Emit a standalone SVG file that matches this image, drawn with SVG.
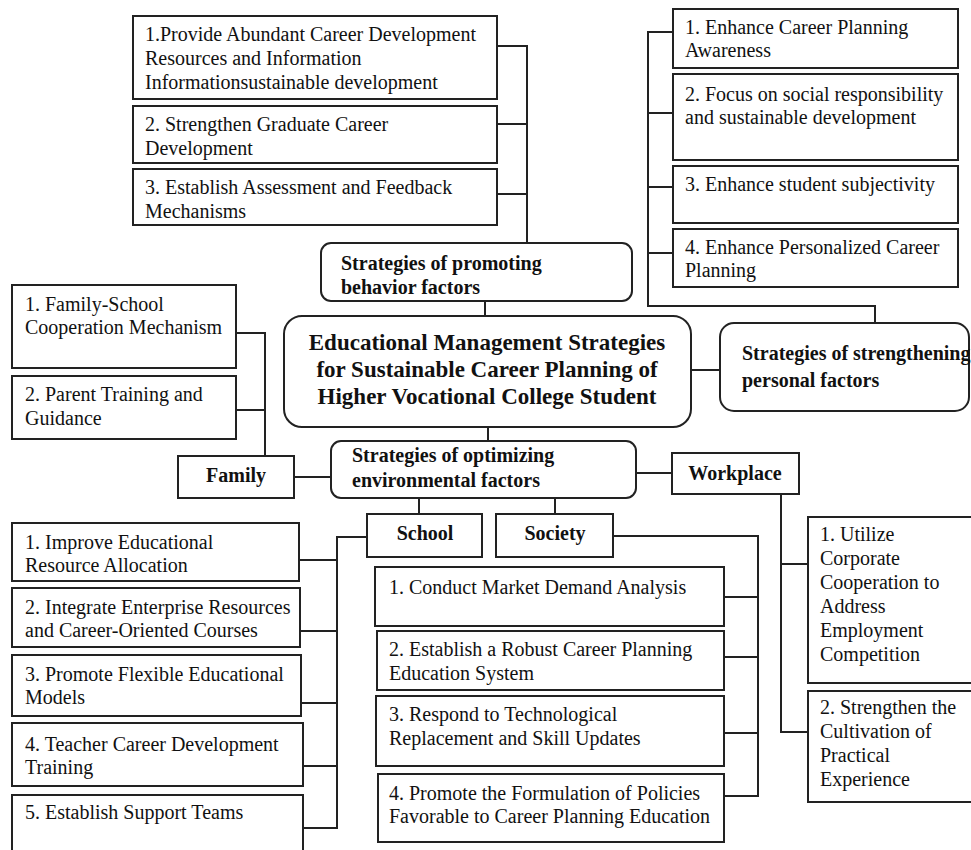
<svg xmlns="http://www.w3.org/2000/svg" width="971" height="850" viewBox="0 0 971 850">
<style>
.b{fill:#fff;stroke:#222;stroke-width:2}
.t{font-family:"Liberation Serif","Times New Roman",serif;font-size:20px;fill:#111}
.bt{font-family:"Liberation Serif","Times New Roman",serif;font-size:20px;font-weight:bold;fill:#111}
.mt{font-family:"Liberation Serif","Times New Roman",serif;font-size:23px;font-weight:bold;fill:#111;text-anchor:middle}
.c{text-anchor:middle}
#connectors path{fill:none;stroke:#222;stroke-width:2}
</style>
<rect width="971" height="850" fill="#fff"/>
<g id="connectors">
<path d="M497 46H527V243M497 124H527M497 194H527"/>
<path d="M485 301V316"/>
<path d="M673 32H648V306H875V323M648 113H673M648 187H673M648 253H673"/>
<path d="M691 370H720"/>
<path d="M236 333H265V456M236 410H265"/>
<path d="M294 477H331"/>
<path d="M488 427V441"/>
<path d="M636 473H672"/>
<path d="M781 494V732H808M781 564H808"/>
<path d="M419 498V514M555 498V514"/>
<path d="M367 537H337V828H303M299 560H337M300 631H337M301 703H337M303 766H337"/>
<path d="M613 536H758V796H724M724 597H758M724 657H758M724 733H758"/>
</g>
<g id="behavior1"><rect class="b" x="133" y="16" width="364" height="83"/><text class="t" x="145" y="41">1.Provide Abundant Career Development</text><text class="t" x="145" y="65">Resources and Information</text><text class="t" x="145" y="89">Informationsustainable development</text></g>
<g id="behavior2"><rect class="b" x="133" y="106" width="364" height="57"/><text class="t" x="145" y="131">2. Strengthen Graduate Career</text><text class="t" x="145" y="155">Development</text></g>
<g id="behavior3"><rect class="b" x="133" y="169" width="364" height="56"/><text class="t" x="145" y="194">3. Establish Assessment and Feedback</text><text class="t" x="145" y="218">Mechanisms</text></g>
<g id="behavior"><rect class="b" x="321" y="243" width="311" height="58" rx="10"/><text class="bt" x="341" y="270">Strategies of promoting</text><text class="bt" x="341" y="294">behavior factors</text></g>
<g id="personal1"><rect class="b" x="673" y="9" width="285" height="59"/><text class="t" x="685" y="34">1. Enhance Career Planning</text><text class="t" x="685" y="57">Awareness</text></g>
<g id="personal2"><rect class="b" x="673" y="74" width="285" height="86"/><text class="t" x="685" y="101">2. Focus on social responsibility</text><text class="t" x="685" y="124">and sustainable development</text></g>
<g id="personal3"><rect class="b" x="673" y="166" width="285" height="57"/><text class="t" x="685" y="191">3. Enhance student subjectivity</text></g>
<g id="personal4"><rect class="b" x="673" y="229" width="285" height="58"/><text class="t" x="685" y="254">4. Enhance Personalized Career</text><text class="t" x="685" y="277">Planning</text></g>
<g id="personal"><rect class="b" x="720" y="323" width="249" height="88" rx="14"/><text class="bt" x="742" y="360">Strategies of strengthening</text><text class="bt" x="742" y="387">personal factors</text></g>
<g id="main"><rect class="b" x="284" y="316" width="407" height="111" rx="18"/><text class="mt" x="487" y="350">Educational Management Strategies</text><text class="mt" x="487" y="377">for Sustainable Career Planning of</text><text class="mt" x="487" y="404">Higher Vocational College Student</text></g>
<g id="family1"><rect class="b" x="12" y="285" width="224" height="83"/><text class="t" x="25" y="311">1. Family-School</text><text class="t" x="25" y="334">Cooperation Mechanism</text></g>
<g id="family2"><rect class="b" x="12" y="376" width="224" height="63"/><text class="t" x="25" y="401">2. Parent Training and</text><text class="t" x="25" y="425">Guidance</text></g>
<g id="family"><rect class="b" x="178" y="456" width="116" height="42"/><text class="bt c" x="236" y="482">Family</text></g>
<g id="environment"><rect class="b" x="331" y="441" width="305" height="57" rx="10"/><text class="bt" x="352" y="462">Strategies of optimizing</text><text class="bt" x="352" y="487">environmental factors</text></g>
<g id="workplace"><rect class="b" x="672" y="453" width="127" height="41"/><text class="bt c" x="735" y="480">Workplace</text></g>
<g id="workplace1"><rect class="b" x="808" y="517" width="170" height="166"/><text class="t" x="820" y="541">1. Utilize</text><text class="t" x="820" y="565">Corporate</text><text class="t" x="820" y="589">Cooperation to</text><text class="t" x="820" y="613">Address</text><text class="t" x="820" y="637">Employment</text><text class="t" x="820" y="661">Competition</text></g>
<g id="workplace2"><rect class="b" x="808" y="691" width="170" height="111"/><text class="t" x="820" y="714">2. Strengthen the</text><text class="t" x="820" y="738">Cultivation of</text><text class="t" x="820" y="762">Practical</text><text class="t" x="820" y="786">Experience</text></g>
<g id="school"><rect class="b" x="367" y="514" width="115" height="43"/><text class="bt c" x="425" y="540">School</text></g>
<g id="society"><rect class="b" x="496" y="514" width="117" height="43"/><text class="bt c" x="555" y="540">Society</text></g>
<g id="school1"><rect class="b" x="12" y="523" width="287" height="58"/><text class="t" x="25" y="549">1. Improve Educational</text><text class="t" x="25" y="572">Resource Allocation</text></g>
<g id="school2"><rect class="b" x="12" y="588" width="288" height="59"/><text class="t" x="25" y="614">2. Integrate Enterprise Resources</text><text class="t" x="25" y="637">and Career-Oriented Courses</text></g>
<g id="school3"><rect class="b" x="12" y="655" width="289" height="61"/><text class="t" x="25" y="681">3. Promote Flexible Educational</text><text class="t" x="25" y="704">Models</text></g>
<g id="school4"><rect class="b" x="12" y="723" width="291" height="63"/><text class="t" x="25" y="751">4. Teacher Career Development</text><text class="t" x="25" y="774">Training</text></g>
<g id="school5"><rect class="b" x="12" y="795" width="291" height="65"/><text class="t" x="25" y="819">5. Establish Support Teams</text></g>
<g id="society1"><rect class="b" x="375" y="567" width="349" height="59"/><text class="t" x="389" y="594">1. Conduct Market Demand Analysis</text></g>
<g id="society2"><rect class="b" x="377" y="631" width="347" height="59"/><text class="t" x="389" y="656">2. Establish a Robust Career Planning</text><text class="t" x="389" y="680">Education System</text></g>
<g id="society3"><rect class="b" x="376" y="696" width="348" height="70"/><text class="t" x="389" y="721">3. Respond to Technological</text><text class="t" x="389" y="745">Replacement and Skill Updates</text></g>
<g id="society4"><rect class="b" x="378" y="774" width="346" height="68"/><text class="t" x="389" y="800">4. Promote the Formulation of Policies</text><text class="t" x="389" y="823">Favorable to Career Planning Education</text></g>
</svg>
